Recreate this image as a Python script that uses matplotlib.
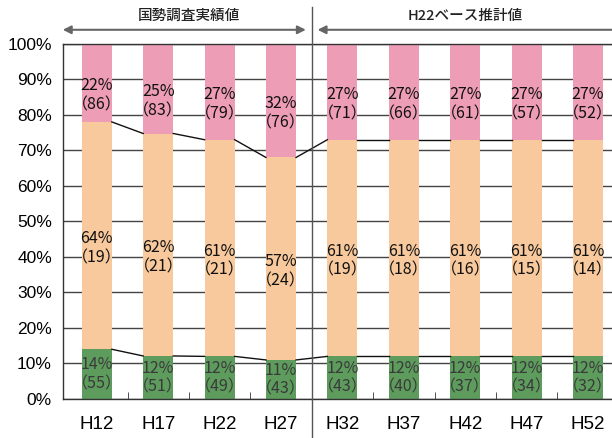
import matplotlib
matplotlib.use("Agg")
import matplotlib.pyplot as plt
import matplotlib.transforms as mtransforms
import numpy as np

plt.rcParams['font.family'] = ['Noto Sans CJK JP', 'DejaVu Sans']

categories = ["H12", "H17", "H22", "H27", "H32", "H37", "H42", "H47", "H52"]
green_pct = [14, 12, 12, 11, 12, 12, 12, 12, 12]
orange_pct = [64, 62, 61, 57, 61, 61, 61, 61, 61]
pink_pct = [22, 25, 27, 32, 27, 27, 27, 27, 27]
green_cnt = [55, 51, 49, 43, 43, 40, 37, 34, 32]
orange_cnt = [19, 21, 21, 24, 19, 18, 16, 15, 14]
pink_cnt = [86, 83, 79, 76, 71, 66, 61, 57, 52]
yticks = [0, 10, 20, 30, 40, 50, 60, 70, 80, 90, 100]
title_left = "国勢調査実績値"
title_right = "H22ベース推計値"

c_green = "#5e9c5e"
c_orange = "#f8c99c"
c_pink = "#ee9db6"

fig = plt.figure(figsize=(6.12, 4.38), dpi=100)
ax = fig.add_axes([0.103, 0.089, 0.913, 0.811])

x = np.arange(len(categories))
w = 0.49
tot = np.array(green_pct) + np.array(orange_pct) + np.array(pink_pct)
g = np.array(green_pct, dtype=float) / tot * 100
o = np.array(orange_pct, dtype=float) / tot * 100
p = np.array(pink_pct, dtype=float) / tot * 100

for yv in yticks:
    ax.axhline(yv, color="#444444", lw=1.0, zorder=0)

ax.bar(x, g, w, color=c_green, zorder=2)
ax.bar(x, o, w, bottom=g, color=c_orange, zorder=2)
ax.bar(x, p, w, bottom=g + o, color=c_pink, zorder=2)

# series lines between bars
for lvl in (g, g + o):
    for i in range(len(x) - 1):
        ax.plot([x[i] + w / 2, x[i + 1] - w / 2], [lvl[i], lvl[i + 1]],
                color="#111111", lw=1.0, zorder=3)

fs = 11.5
for i in range(len(x)):
    ax.text(x[i], g[i] / 2, f"{green_pct[i]}%\n（{green_cnt[i]}）", ha="center", va="center",
            fontsize=fs, color="#3a3a3a", linespacing=1.15, zorder=4)
    ax.text(x[i], g[i] + o[i] / 2 - 3.5, f"{orange_pct[i]}%\n（{orange_cnt[i]}）", ha="center",
            va="center", fontsize=fs, color="#111111", linespacing=1.15, zorder=4)
    ax.text(x[i], g[i] + o[i] + p[i] / 2 - 3.5, f"{pink_pct[i]}%\n（{pink_cnt[i]}）", ha="center",
            va="center", fontsize=fs, color="#111111", linespacing=1.15, zorder=4)

ax.set_xlim(-0.55, 8.55)
ax.set_ylim(0, 100)
ax.set_yticks(yticks)
ax.set_yticklabels([f"{v}%" for v in yticks], fontsize=12.5, family=["Liberation Sans", "DejaVu Sans"])
ax.set_xticks(x)
ax.set_xticklabels(categories, fontsize=13.5, family=["Liberation Sans", "DejaVu Sans"])
ax.tick_params(axis="x", which="major", length=0, pad=12)
ax.tick_params(axis="y", length=0, pad=8)
ax.set_xticks(x[:-1] + 0.5, minor=True)
ax.tick_params(axis="x", which="minor", direction="in", length=5, color="#333333")
for s in ax.spines.values():
    s.set_color("#333333")
    s.set_linewidth(1.0)
ax.spines["right"].set_visible(False)

# divider and arrows
trans = mtransforms.blended_transform_factory(ax.transData, fig.transFigure)
ax.plot([3.5, 3.5], [0.0, 0.985], transform=trans, color="#555555", lw=1.0, clip_on=False, zorder=5)
ay = 0.932
ax.annotate("", xy=(-0.6, ay), xytext=(3.45, ay), xycoords=trans, textcoords=trans,
            arrowprops=dict(arrowstyle="<|-|>", color="#666666", lw=1.5, mutation_scale=12),
            annotation_clip=False)
ax.annotate("", xy=(3.55, ay), xytext=(8.7, ay), xycoords=trans, textcoords=trans,
            arrowprops=dict(arrowstyle="<|-|>", color="#666666", lw=1.5, mutation_scale=12),
            annotation_clip=False)
ax.text(1.5, 0.963, title_left, transform=trans, ha="center", va="center", fontsize=10.5,
        color="#222222", fontweight="medium")
ax.text(6.0, 0.963, title_right, transform=trans, ha="center", va="center", fontsize=10.5,
        color="#222222", fontweight="medium")

fig.savefig("out.png", dpi=100)
